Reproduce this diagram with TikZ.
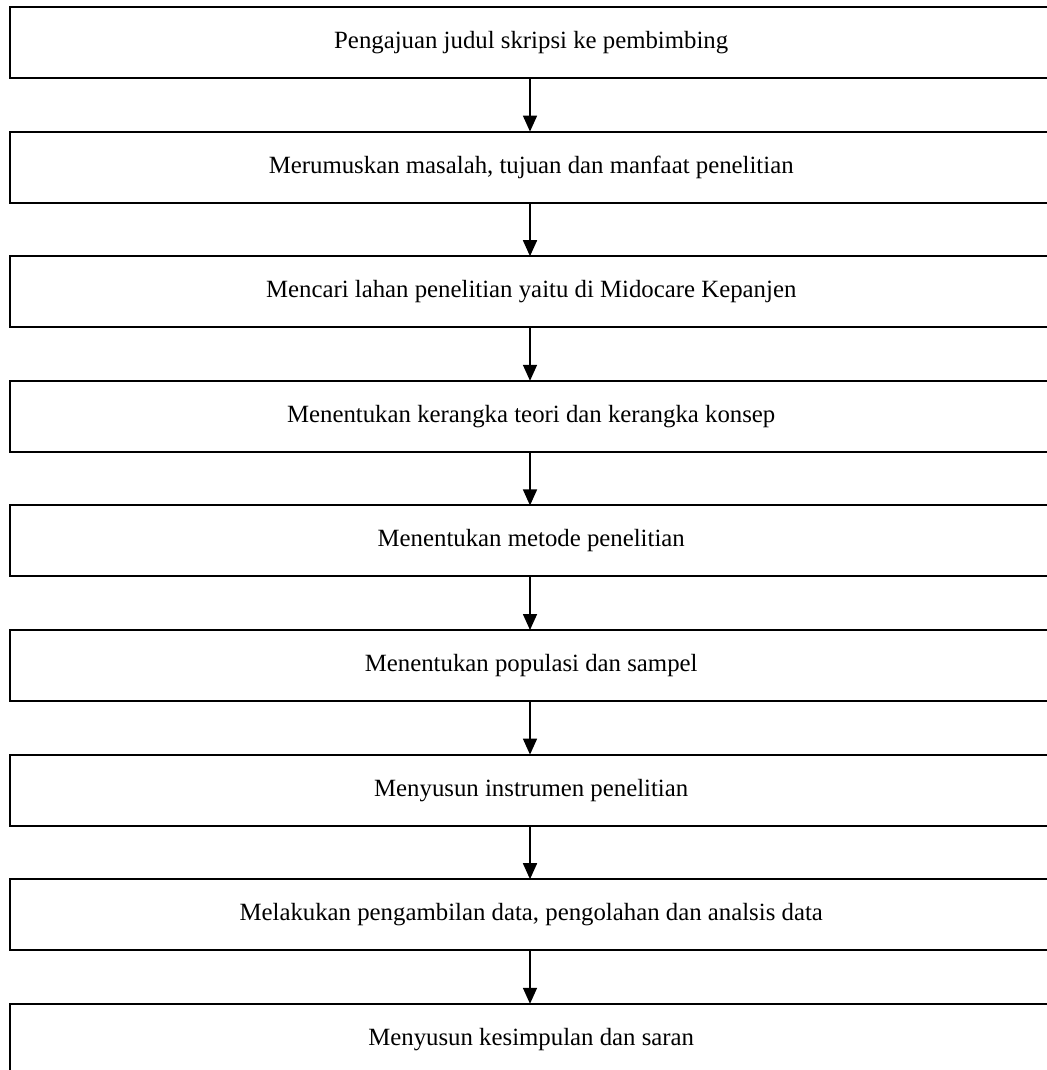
\documentclass[tikz,border=0pt]{standalone}
\usepackage{fontspec}
\setmainfont{Liberation Serif}
\usepackage{tikz}
\usetikzlibrary{positioning, arrows.meta}
\tikzset{
	node distance = 26.8pt,
	line width = .75pt,
	font = \fontsize{12.4}{15}\selectfont,
	stepbox/.style={
		draw,
		rectangle,
		line width=1pt,
		minimum width=520.75pt,
		minimum height=35.5pt,
		inner sep=0pt,
		outer sep=0pt
	},
	edge/.style={
		-{Triangle[width=7pt,length=8pt]},
		line width=.8pt
	}
}

\begin{document}
\begin{tikzpicture}
		\useasboundingbox (0,0) rectangle (523pt,-535pt);
\node[stepbox] (1) at (265.6pt,-21.25pt) {Pengajuan judul skripsi ke pembimbing};
\node[stepbox, below=of 1] (2) {Merumuskan masalah, tujuan dan manfaat penelitian};
\node[stepbox, below=of 2] (3) {Mencari lahan penelitian yaitu di Midocare Kepanjen};
\node[stepbox, below=of 3] (4) {Menentukan kerangka teori dan kerangka konsep};
\node[stepbox, below=of 4] (5) {Menentukan metode penelitian};
\node[stepbox, below=of 5] (6) {Menentukan populasi dan sampel};
\node[stepbox, below=of 6] (7) {Menyusun instrumen penelitian};
\node[stepbox, below=of 7] (8) {Melakukan pengambilan data, pengolahan dan analsis data};
\node[stepbox, below=of 8] (9) {Menyusun kesimpulan dan saran};

% ---
% Arrows
% ---
\foreach \i in {1,...,8} {
	\pgfmathtruncatemacro{\next}{\i + 1}
	\draw[edge] ([xshift=-0.6pt]\i.south) -- ([xshift=-0.6pt]\next.north);
};
	\end{tikzpicture}
\end{document}
